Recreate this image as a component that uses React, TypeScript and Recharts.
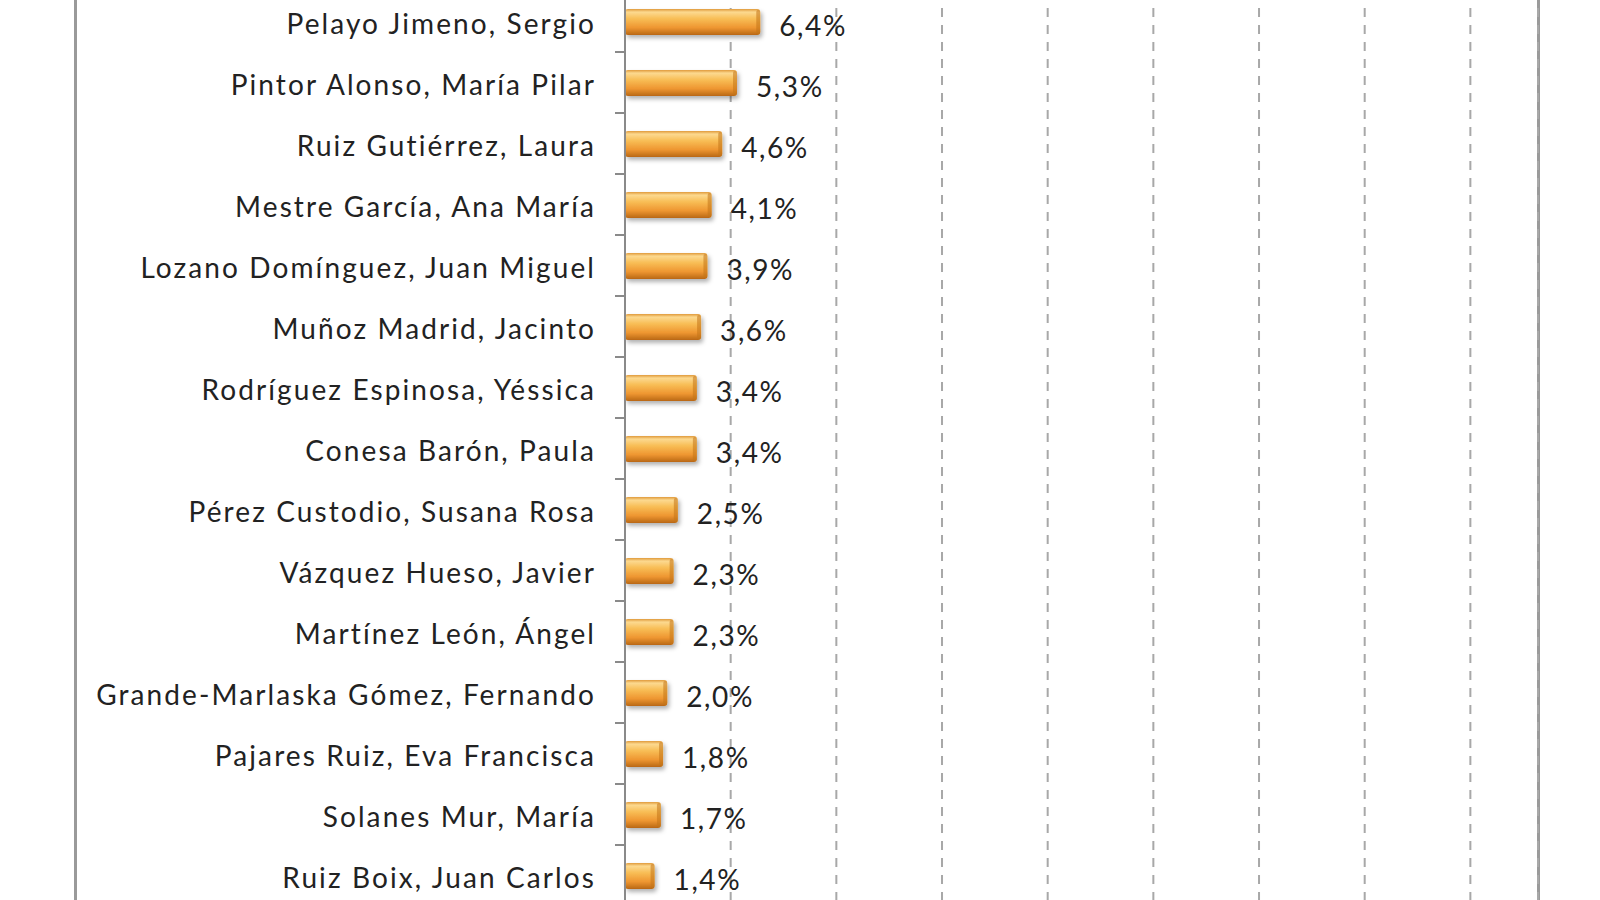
import { BarChart, Bar, XAxis, YAxis, CartesianGrid, LabelList } from "recharts";

const names = [
  "Pelayo Jimeno, Sergio",
  "Pintor Alonso, María Pilar",
  "Ruiz Gutiérrez, Laura",
  "Mestre García, Ana María",
  "Lozano Domínguez, Juan Miguel",
  "Muñoz Madrid, Jacinto",
  "Rodríguez Espinosa, Yéssica",
  "Conesa Barón, Paula",
  "Pérez Custodio, Susana Rosa",
  "Vázquez Hueso, Javier",
  "Martínez León, Ángel",
  "Grande-Marlaska Gómez, Fernando",
  "Pajares Ruiz, Eva Francisca",
  "Solanes Mur, María",
  "Ruiz Boix, Juan Carlos",
];

const shares = [6.4, 5.3, 4.6, 4.1, 3.9, 3.6, 3.4, 3.4, 2.5, 2.3, 2.3, 2.0, 1.8, 1.7, 1.4];

const gridTicks = [0, 5, 10, 15, 20, 25, 30, 35, 40];

const data = names.map((name, i) => ({ name, value: shares[i] }));

const FONT = "Lato, 'Open Sans', sans-serif";
const BAND = 61;

// category label plus the small tick that sits on the band boundary
function NameTick(props: any) {
  const { x, y, payload } = props;
  return (
    <g>
      <line x1={x - 2} x2={x + 8} y1={y - BAND / 2} y2={y - BAND / 2} stroke="#8a8a8a" strokeWidth={2} />
      <text
        x={x - 21}
        y={y + 1}
        textAnchor="end"
        dominantBaseline="central"
        fill="#222"
        fontSize={28}
        fontFamily={FONT}
        letterSpacing={2.1}
      >
        {payload.value}
      </text>
    </g>
  );
}

function GlossyBar(props: any) {
  const { x, y, width, height } = props;
  if (!width || width <= 0) return null;
  return (
    <g filter="url(#barShadow)">
      <rect x={x} y={y} width={width} height={height} rx={3} fill="url(#barFill)" />
      <rect x={x + width - 4} y={y + 1} width={4} height={height - 2} rx={2} fill="#c27418" opacity={0.55} />
    </g>
  );
}

function ValueLabel(props: any) {
  const { x, y, width, height, value } = props;
  return (
    <text
      x={x + width + 19}
      y={y + height / 2 + 3}
      dominantBaseline="central"
      fill="#222"
      fontSize={28}
      fontFamily={FONT}
      letterSpacing={1.6}
    >
      {`${Number(value).toFixed(1).replace(".", ",")}%`}
    </text>
  );
}

export default function App() {
  return (
    <div
      style={{
        position: "absolute",
        left: 0,
        top: 0,
        width: 1600,
        height: 900,
        overflow: "hidden",
        background: "#fff",
      }}
    >
      <div style={{ position: "absolute", left: 74, top: 0, width: 3, height: 900, background: "#9a9a9a" }} />
      <div style={{ position: "absolute", left: 1537, top: 0, width: 3, height: 900, background: "#9a9a9a" }} />
      <div style={{ position: "absolute", left: 0, top: -9 }}>
        <BarChart
          width={1600}
          height={915}
          data={data}
          layout="vertical"
          barCategoryGap={0}
          margin={{ top: 0, right: 62, bottom: 0, left: 0 }}
        >
          <defs>
            <linearGradient id="barFill" x1="0" y1="0" x2="0" y2="1">
              <stop offset="0%" stopColor="#e09a3c" />
              <stop offset="12%" stopColor="#fcd98f" />
              <stop offset="38%" stopColor="#f8bd55" />
              <stop offset="72%" stopColor="#ee9631" />
              <stop offset="100%" stopColor="#b96815" />
            </linearGradient>
            <filter id="barShadow" x="-10%" y="-30%" width="130%" height="180%">
              <feDropShadow dx={2} dy={3} stdDeviation={2} floodColor="#000" floodOpacity={0.3} />
            </filter>
          </defs>
          <CartesianGrid
            horizontal={false}
            stroke="#a8a8a8"
            strokeWidth={2}
            strokeDasharray="9 8"
          />
          <XAxis type="number" domain={[0, 43.2]} ticks={gridTicks} hide />
          <YAxis
            type="category"
            dataKey="name"
            width={625}
            tickLine={false}
            axisLine={{ stroke: "#8a8a8a", strokeWidth: 2 }}
            tick={<NameTick />}
            interval={0}
          />
          <Bar dataKey="value" barSize={26} shape={<GlossyBar />} isAnimationActive={false}>
            <LabelList dataKey="value" content={<ValueLabel />} />
          </Bar>
        </BarChart>
      </div>
    </div>
  );
}
